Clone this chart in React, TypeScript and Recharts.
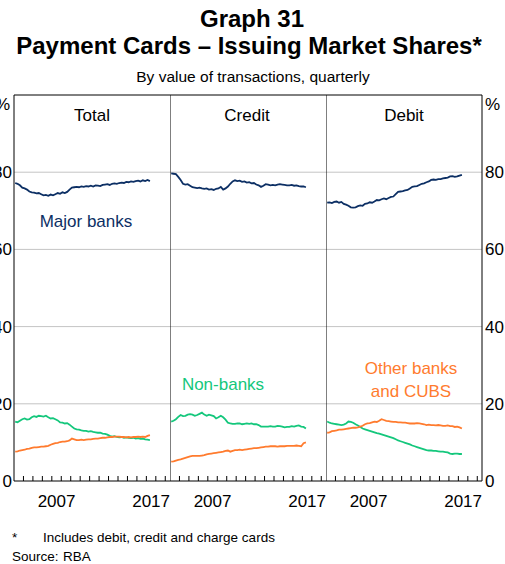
import { LineChart, Line, XAxis, YAxis, CartesianGrid, ReferenceLine } from 'recharts'

// quarterly, 2003:Q1 to 2017:Q2
const startYear = 2003

const totalMajor = [
  77.2, 77.0, 76.6, 76.0, 75.8, 75.5, 75.0, 74.8, 74.7, 74.5, 74.6, 74.3,
  74.0, 74.1, 73.9, 74.2, 74.0, 74.3, 74.6, 74.4, 74.8, 74.6, 74.9, 75.5,
  76.0, 76.1, 76.2, 76.1, 76.3, 76.2, 76.4, 76.3, 76.5, 76.3, 76.6, 76.5,
  76.4, 76.7, 76.8, 76.9, 76.7, 77.0, 77.1, 77.0, 77.2, 77.3, 77.2, 77.5,
  77.4, 77.6, 77.5, 77.7, 77.8, 77.6, 77.9, 77.7, 78.0, 77.7,
]
const totalNonBanks = [
  15.4, 15.2, 15.6, 16.0, 16.2, 15.9, 16.0, 16.5, 16.8, 16.6, 16.9, 16.8,
  16.7, 16.9, 16.5, 16.2, 16.3, 16.0, 15.7, 15.2, 15.1, 14.9, 15.0, 14.6,
  14.1, 13.6, 13.4, 13.3, 13.1, 13.0, 13.0, 12.8, 12.9, 12.7, 12.6, 12.5,
  12.5, 12.3, 12.2, 12.0, 11.7, 11.5, 11.6, 11.4, 11.3, 11.4, 11.2, 11.3,
  11.2, 11.1, 11.2, 11.0, 11.1, 10.9, 11.0, 10.8, 10.7, 10.6,
]
const totalOther = [
  7.6, 7.7, 7.9, 8.0, 8.1, 8.3, 8.4, 8.6, 8.7, 8.7, 8.8, 8.9,
  8.9, 9.0, 9.1, 9.4, 9.6, 9.8, 9.9, 10.1, 10.2, 10.2, 10.3, 10.5,
  11.0, 10.8, 10.6, 10.6, 10.7, 10.6, 10.7, 10.8, 10.8, 10.9, 11.0, 11.0,
  11.1, 11.2, 11.2, 11.3, 11.4, 11.4, 11.5, 11.5, 11.5, 11.4, 11.4, 11.3,
  11.4, 11.3, 11.4, 11.4, 11.5, 11.4, 11.5, 11.4, 11.7, 11.9,
]

const creditMajor = [
  79.7, 79.6, 79.5, 78.8, 78.0, 77.0, 76.8, 76.9, 76.5, 76.1, 76.0, 75.9,
  76.0, 75.8, 75.7, 75.8, 75.5, 75.6, 75.4, 75.7, 75.8, 76.2, 75.5, 75.8,
  76.3, 77.0, 77.6, 77.9, 77.7, 77.8, 77.5, 77.6, 77.3, 77.4, 77.1, 77.2,
  76.8, 76.6, 76.2, 76.5, 76.9, 76.8, 76.6, 76.7, 76.6, 76.8, 76.9, 76.8,
  76.7, 76.6, 76.6, 76.7, 76.5, 76.6, 76.4, 76.3, 76.3, 76.1,
]
const creditNonBanks = [
  15.4, 15.6, 16.0, 16.6, 17.1, 16.8, 16.9, 17.2, 17.3, 17.2, 16.9, 17.1,
  17.4, 17.7, 17.2, 16.9, 17.2, 17.0, 16.8, 16.2, 16.5, 16.9, 16.5, 15.9,
  15.1, 14.9, 14.8, 14.8, 14.9, 14.9, 14.7, 14.8, 14.9, 14.8, 14.9, 14.7,
  14.7, 14.5, 14.1, 14.1, 14.1, 14.1, 14.2, 14.1, 14.1, 14.3, 14.2, 14.1,
  13.9, 14.0, 14.0, 14.2, 14.1, 14.3, 14.4, 14.1, 14.0, 13.6,
]
const creditOther = [
  5.0, 5.1, 5.3, 5.5, 5.6, 5.8, 6.0, 6.2, 6.4, 6.5, 6.5, 6.5,
  6.5, 6.6, 6.7, 6.9, 7.0, 7.1, 7.2, 7.3, 7.4, 7.5, 7.6, 7.8,
  7.9, 7.6, 7.8, 8.0, 8.0, 8.1, 8.0, 8.1, 8.2, 8.3, 8.4, 8.5,
  8.5, 8.6, 8.7, 8.8, 8.9, 8.9, 9.0, 9.0, 9.0, 8.9, 9.0, 9.0,
  9.0, 9.1, 9.1, 9.1, 9.1, 9.2, 9.1, 9.0, 9.8, 10.0,
]

const debitMajor = [
  72.1, 72.2, 72.0, 72.3, 72.4, 72.1, 72.3, 71.8, 71.6, 71.3, 70.9, 70.8,
  70.9, 71.2, 71.4, 71.3, 71.8, 71.9, 72.2, 72.1, 72.4, 72.8, 72.7, 73.0,
  73.2, 73.0, 73.3, 73.6, 73.7, 74.3, 74.9, 75.0, 75.1, 75.3, 75.4, 75.8,
  76.2, 76.3, 76.4, 76.7, 77.0, 77.1, 77.4, 77.6, 78.0, 78.1, 78.0, 78.2,
  78.2, 78.4, 78.5, 78.6, 78.9, 79.0, 78.8, 78.9, 79.1, 79.3,
]
const debitNonBanks = [
  15.4, 15.1, 14.9, 14.8, 14.7, 14.6, 14.5, 14.6, 14.9, 15.4, 15.3, 15.1,
  14.7, 14.4, 14.0, 13.6, 13.4, 13.2, 13.0, 12.8, 12.6, 12.4, 12.3, 12.1,
  11.9, 11.7, 11.5, 11.3, 11.1, 10.8, 10.5, 10.3, 10.1, 9.9, 9.7, 9.5,
  9.2, 9.0, 8.8, 8.6, 8.4, 8.2, 8.0, 7.9, 7.9, 7.8, 7.8, 7.7,
  7.6, 7.6, 7.5, 7.4, 7.1, 7.0, 7.1, 7.1, 7.0, 7.0,
]
const debitOther = [
  12.5, 12.6, 12.9, 13.0, 13.1, 13.3, 13.3, 13.4, 13.5, 13.6, 13.7, 13.8,
  13.8, 13.9, 14.1, 14.3, 14.7, 14.9, 15.0, 15.2, 15.4, 15.3, 15.6, 16.0,
  15.8, 15.6, 15.5, 15.4, 15.3, 15.3, 15.2, 15.2, 15.1, 15.1, 15.0, 14.9,
  14.9, 14.9, 15.0, 14.9, 14.8, 14.7, 14.5, 14.6, 14.5, 14.5, 14.4, 14.5,
  14.4, 14.3, 14.3, 14.4, 14.2, 14.2, 14.0, 14.1, 13.9, 13.6,
]

const yearTicks = [2004, 2005, 2006, 2007, 2008, 2009, 2010, 2011, 2012, 2013, 2014, 2015, 2016, 2017, 2018, 2019]
const yearLabels = [2007.5, 2017.5]
const yTicks = [0, 20, 40, 60, 80]
const xDomain = [2003, 2019.5]

const NAVY = '#0c2f64'
const GREEN = '#14c77c'
const ORANGE = '#ff7b2e'
const FONT = "'Liberation Sans', Arial, sans-serif"

const rowsFor = (major: number[], nonBanks: number[], other: number[]) =>
  major.map((v, i) => ({
    t: startYear + (i + 0.5) / 4,
    major: v,
    nonBanks: nonBanks[i],
    other: other[i],
  }))

const YearTick = (props: any) => {
  const { x, y, payload } = props
  const v = payload.value
  if (Number.isInteger(v)) {
    return <line x1={x} x2={x} y1={y} y2={y - 5} stroke="#000" strokeWidth={1} />
  }
  return (
    <text x={x} y={y + 26} textAnchor="middle" fontSize={17} fill="#000" fontFamily={FONT}>
      {Math.floor(v)}
    </text>
  )
}

function Panel({ rows, left, width, axis }: {
  rows: any[], left: number, width: number, axis: 'left' | 'right' | 'none'
}) {
  return (
    <div style={{ position: 'absolute', left, top: 0 }}>
      <LineChart width={width} height={520} data={rows} margin={{ top: 95, right: 0, bottom: 0, left: 0 }}>
        <CartesianGrid vertical={false} horizontalValues={[20, 40, 60, 80]} stroke="#c4c4c4" />
        <XAxis
          dataKey="t"
          type="number"
          domain={xDomain}
          allowDataOverflow
          ticks={[...yearTicks, ...yearLabels]}
          interval={0}
          tick={<YearTick />}
          tickLine={false}
          tickSize={0}
          tickMargin={0}
          height={39}
          axisLine={{ stroke: '#000' }}
        />
        <YAxis
          domain={[0, 100]}
          ticks={yTicks}
          hide={axis === 'none'}
          orientation={axis === 'right' ? 'right' : 'left'}
          width={axis === 'left' ? 14 : 23}
          tickLine={false}
          axisLine={false}
          tickSize={0}
          tickMargin={axis === 'left' ? 2 : 3}
          tick={{ fontSize: 17, fill: '#000', fontFamily: FONT }}
          interval={0}
        />
        <ReferenceLine x={xDomain[0]} stroke="#000" />
        {axis === 'right' && <ReferenceLine x={xDomain[1]} stroke="#000" />}
        <ReferenceLine y={100} stroke="#000" />
        <Line type="linear" dataKey="major" stroke={NAVY} strokeWidth={1.8} dot={false} isAnimationActive={false} />
        <Line type="linear" dataKey="nonBanks" stroke={GREEN} strokeWidth={1.8} dot={false} isAnimationActive={false} />
        <Line type="linear" dataKey="other" stroke={ORANGE} strokeWidth={1.8} dot={false} isAnimationActive={false} />
      </LineChart>
    </div>
  )
}

export default function App() {
  return (
    <div style={{ position: 'absolute', left: 0, top: 0, width: 505, height: 564, background: '#fff', overflow: 'hidden' }}>
      <Panel rows={rowsFor(totalMajor, totalNonBanks, totalOther)} left={0} width={170} axis="left" />
      <Panel rows={rowsFor(creditMajor, creditNonBanks, creditOther)} left={170} width={156} axis="none" />
      <Panel rows={rowsFor(debitMajor, debitNonBanks, debitOther)} left={326} width={179} axis="right" />
      <svg width={505} height={564} style={{ position: 'absolute', left: 0, top: 0, pointerEvents: 'none' }} fontFamily={FONT}>
        <text x={252} y={27} textAnchor="middle" fontSize={24} fontWeight="bold">Graph 31</text>
        <text x={249} y={54} textAnchor="middle" fontSize={24} fontWeight="bold">Payment Cards – Issuing Market Shares*</text>
        <text x={253} y={82} textAnchor="middle" fontSize={15.5}>By value of transactions, quarterly</text>
        <text x={92} y={121} textAnchor="middle" fontSize={17}>Total</text>
        <text x={247} y={121} textAnchor="middle" fontSize={17}>Credit</text>
        <text x={404} y={121} textAnchor="middle" fontSize={17}>Debit</text>
        <text x={10} y={110} textAnchor="end" fontSize={17}>%</text>
        <text x={485} y={110} fontSize={17}>%</text>
        <text x={86} y={227} textAnchor="middle" fontSize={17} fill={NAVY}>Major banks</text>
        <text x={223} y={390} textAnchor="middle" fontSize={17} fill={GREEN}>Non-banks</text>
        <text x={411} y={374} textAnchor="middle" fontSize={17} fill={ORANGE}>Other banks</text>
        <text x={411} y={397} textAnchor="middle" fontSize={17} fill={ORANGE}>and CUBS</text>
        <text x={12} y={542} fontSize={13.5}>*</text>
        <text x={43} y={542} fontSize={13.5}>Includes debit, credit and charge cards</text>
        <text x={12} y={561} fontSize={13.5}>Source:</text>
        <text x={63} y={561} fontSize={13.5}>RBA</text>
      </svg>
    </div>
  )
}
